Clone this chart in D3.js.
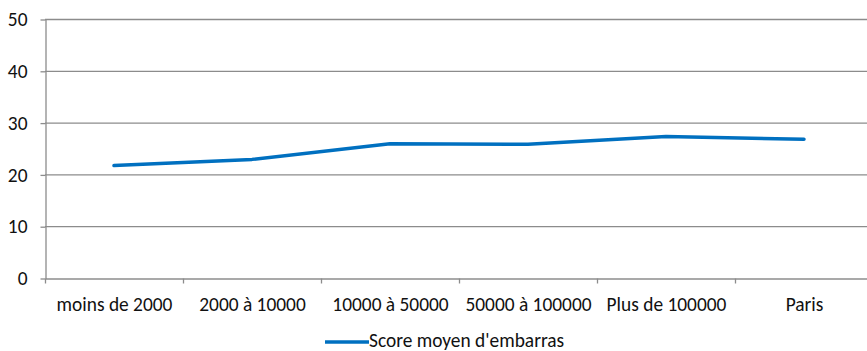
<!DOCTYPE html>
<html><head><meta charset="utf-8">
<script src="https://cdn.jsdelivr.net/npm/d3@7/dist/d3.min.js"></script>
<style>body{margin:0;background:#fff}svg{display:block}</style>
</head><body>
<svg id="c" width="867" height="351"></svg>
<script>
const categories = ["moins de 2000","2000 à 10000","10000 à 50000","50000 à 100000","Plus de 100000","Paris"];
const values = [21.7, 22.9, 25.9, 25.8, 27.3, 26.8];
const yTicks = [0,10,20,30,40,50];
const seriesName = "Score moyen d'embarras";

const svg = d3.select("#c");
const font = "Carlito, Calibri, 'Liberation Sans', Arial, sans-serif";
const fs = 19.4;
const mLeft = 45, mRight = 873, mTop = 19, mBottom = 278;
const x = d3.scaleBand().domain(categories).range([mLeft, mRight]);
const y = d3.scaleLinear().domain([0, 50]).range([mBottom, mTop]);
const grey = "#8c8c8c";

// gridlines
svg.append("g").selectAll("line").data(yTicks.filter(d => d > 0)).join("line")
  .attr("x1", mLeft).attr("x2", mRight)
  .attr("y1", d => y(d) + 0.5).attr("y2", d => y(d) + 0.5)
  .attr("stroke", grey).attr("stroke-width", 1.3);

// y axis
const ya = svg.append("g").attr("transform", `translate(${mLeft + 0.5},0.5)`)
  .call(d3.axisLeft(y).tickValues(yTicks).tickSize(5).tickPadding(13).tickSizeOuter(0));
ya.select(".domain").attr("stroke", grey).attr("stroke-width", 1.3);
ya.selectAll(".tick line").attr("stroke", grey).attr("stroke-width", 1.3);
ya.selectAll("text").attr("font-family", font).attr("font-size", fs).attr("fill", "#111");

// x axis
const xa = svg.append("g").attr("transform", `translate(0.5,${mBottom + 0.5})`)
  .call(d3.axisBottom(x).tickSize(0).tickPadding(19));
xa.select(".domain").attr("stroke", grey).attr("stroke-width", 1.3);
xa.selectAll("text").attr("font-family", font).attr("font-size", fs).attr("fill", "#111")
  .attr("dy", null).attr("y", 32);
const bounds = categories.map(c => x(c)).concat([mRight]);
xa.selectAll(".bt").data(bounds).join("line").attr("class","bt")
  .attr("x1", d => d).attr("x2", d => d).attr("y1", 0).attr("y2", 5)
  .attr("stroke", grey).attr("stroke-width", 1.3);

// line
const line = d3.line()
  .x((d, i) => x(categories[i]) + x.bandwidth() / 2)
  .y(d => y(d));
svg.append("path").datum(values).attr("d", line)
  .attr("fill", "none").attr("stroke", "#0070C0").attr("stroke-width", 3.5)
  .attr("stroke-linecap", "round").attr("stroke-linejoin", "round");

// legend
svg.append("line").attr("x1", 325).attr("x2", 369).attr("y1", 342).attr("y2", 342)
  .attr("stroke", "#0070C0").attr("stroke-width", 3.5);
svg.append("text").attr("x", 369).attr("y", 347).text(seriesName)
  .attr("font-family", font).attr("font-size", fs).attr("fill", "#111");
</script>
</body></html>
